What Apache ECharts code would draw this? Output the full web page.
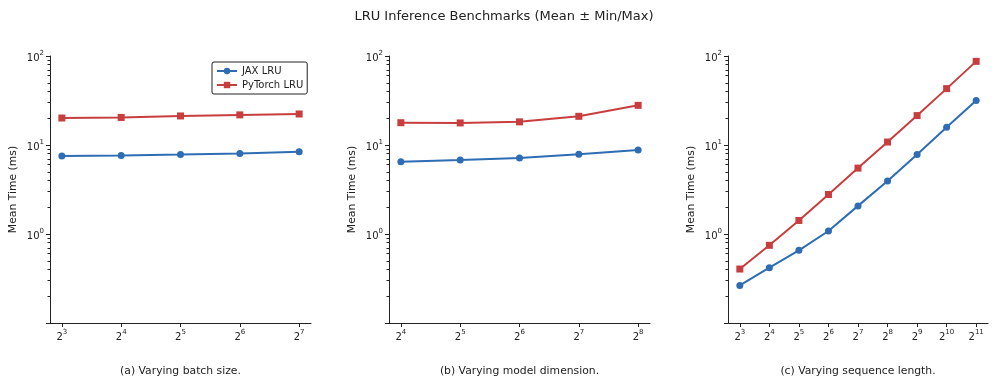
<!DOCTYPE html>
<html>
<head>
<meta charset="utf-8">
<script src="https://cdn.jsdelivr.net/npm/echarts@6/dist/echarts.min.js"></script>
<style>
html, body { margin: 0; padding: 0; background: #fff; }
#main { width: 997px; height: 382px; }
</style>
</head>
<body>
<div id="main"></div>
<script>
// x positions are powers of two, kept as exponents
var batchExp = [3, 4, 5, 6, 7];
var modelExp = [4, 5, 6, 7, 8];
var seqExp = [3, 4, 5, 6, 7, 8, 9, 10, 11];

// mean time (ms)
var batchJax = [7.5, 7.6, 7.8, 8.05, 8.4];
var batchTorch = [20.1, 20.4, 21.2, 21.8, 22.3];
var modelJax = [6.5, 6.8, 7.15, 7.85, 8.8];
var modelTorch = [17.8, 17.7, 18.2, 21.0, 27.9];
var seqJax = [0.264, 0.418, 0.655, 1.08, 2.07, 3.95, 7.84, 15.8, 31.6];
var seqTorch = [0.404, 0.746, 1.42, 2.78, 5.5, 10.8, 21.4, 43, 87];

var yMajor = [0.1, 1, 10, 100];
var yLabels = [1, 10, 100];
var yMinor = [0.2, 0.3, 0.4, 0.5, 0.6, 0.7, 0.8, 0.9, 2, 3, 4, 5, 6, 7, 8, 9, 20, 30, 40, 50, 60, 70, 80, 90];

var captions = ['(a) Varying batch size.', '(b) Varying model dimension.', '(c) Varying sequence length.'];

var BLUE = '#2e6db3';
var RED = '#c83e3e';
var INK = '#222';
var FONT = 'DejaVu Sans';

var chart = echarts.init(document.getElementById('main'));

function pair(xs, ys) {
    return xs.map(function (x, i) { return [x, ys[i]]; });
}

function supLabel(base, exp) {
    return '{b|' + base + '}{s|' + exp + '}';
}

var richTick = {
    b: { fontSize: 10, fontFamily: FONT, color: INK, verticalAlign: 'bottom', lineHeight: 14 },
    s: { fontSize: 7, fontFamily: FONT, color: INK, verticalAlign: 'bottom', lineHeight: 14, padding: [0, 0, 6, 0] }
};

var grids = [
    { left: 50, top: 56, width: 261, height: 267 },
    { left: 389, top: 56, width: 261, height: 267 },
    { left: 728, top: 56, width: 260, height: 267 }
];
var panels = [
    { exps: batchExp, jax: batchJax, torch: batchTorch },
    { exps: modelExp, jax: modelJax, torch: modelTorch },
    { exps: seqExp, jax: seqJax, torch: seqTorch }
];

var xAxes = [], yAxes = [], series = [];
panels.forEach(function (p, i) {
    var lo = p.exps[0], hi = p.exps[p.exps.length - 1];
    var pad = (hi - lo) * 0.05;
    xAxes.push({
        type: 'value', gridIndex: i, min: lo - pad, max: hi + pad,
        axisLine: { lineStyle: { color: INK, width: 1 } },
        axisTick: { length: 4, lineStyle: { color: INK }, customValues: p.exps },
        axisLabel: {
            customValues: p.exps, margin: 5, rich: richTick,
            formatter: function (v) { return supLabel('2', Math.round(v)); }
        },
        splitLine: { show: false }
    });
    yAxes.push({
        type: 'log', logBase: 10, gridIndex: i, min: 0.1, max: 100, position: 'left',
        name: 'Mean Time (ms)', nameLocation: 'middle', nameGap: 31,
        nameTextStyle: { fontSize: 10.8, fontFamily: FONT, color: INK },
        axisLine: { show: true, lineStyle: { color: INK, width: 1 } },
        axisTick: { length: 4, lineStyle: { color: INK }, customValues: yMajor },
        axisLabel: {
            customValues: yLabels, margin: 6, rich: richTick,
            formatter: function (v) { return supLabel('10', Math.round(Math.log10(v))); }
        },
        splitLine: { show: false }
    });
    // minor ticks
    yAxes.push({
        type: 'log', logBase: 10, gridIndex: i, min: 0.1, max: 100, position: 'left',
        axisLine: { show: false },
        axisTick: { show: true, length: 2.5, lineStyle: { color: INK }, customValues: yMinor },
        axisLabel: { show: false },
        splitLine: { show: false }
    });
    series.push({
        name: 'JAX LRU', type: 'line', xAxisIndex: i, yAxisIndex: i * 2,
        data: pair(p.exps, p.jax), symbol: 'circle', symbolSize: 7,
        lineStyle: { color: BLUE, width: 2 }, itemStyle: { color: BLUE },
        animation: false
    });
    series.push({
        name: 'PyTorch LRU', type: 'line', xAxisIndex: i, yAxisIndex: i * 2,
        data: pair(p.exps, p.torch), symbol: 'rect', symbolSize: 7,
        lineStyle: { color: RED, width: 2 }, itemStyle: { color: RED },
        animation: false
    });
});

var titles = [{
    text: 'LRU Inference Benchmarks (Mean \u00b1 Min/Max)',
    left: 499, top: 5, textAlign: 'center',
    textStyle: { fontSize: 13, fontWeight: 'normal', fontFamily: FONT, color: INK }
}];
captions.forEach(function (c, i) {
    titles.push({
        text: c, left: grids[i].left + grids[i].width / 2 - 5, top: 361, textAlign: 'center',
        textStyle: { fontSize: 10.8, fontWeight: 'normal', fontFamily: FONT, color: INK }
    });
});

chart.setOption({
    backgroundColor: '#fff',
    animation: false,
    title: titles,
    legend: {
        data: ['JAX LRU', 'PyTorch LRU'],
        orient: 'vertical', left: 212, top: 62,
        borderColor: INK, borderWidth: 1, borderRadius: 2,
        padding: [4, 4, 4, 4], itemGap: 4, itemWidth: 20, itemHeight: 8,
        textStyle: { fontSize: 10, fontFamily: FONT, color: INK }
    },
    grid: grids,
    xAxis: xAxes,
    yAxis: yAxes,
    series: series
});
</script>
</body>
</html>
